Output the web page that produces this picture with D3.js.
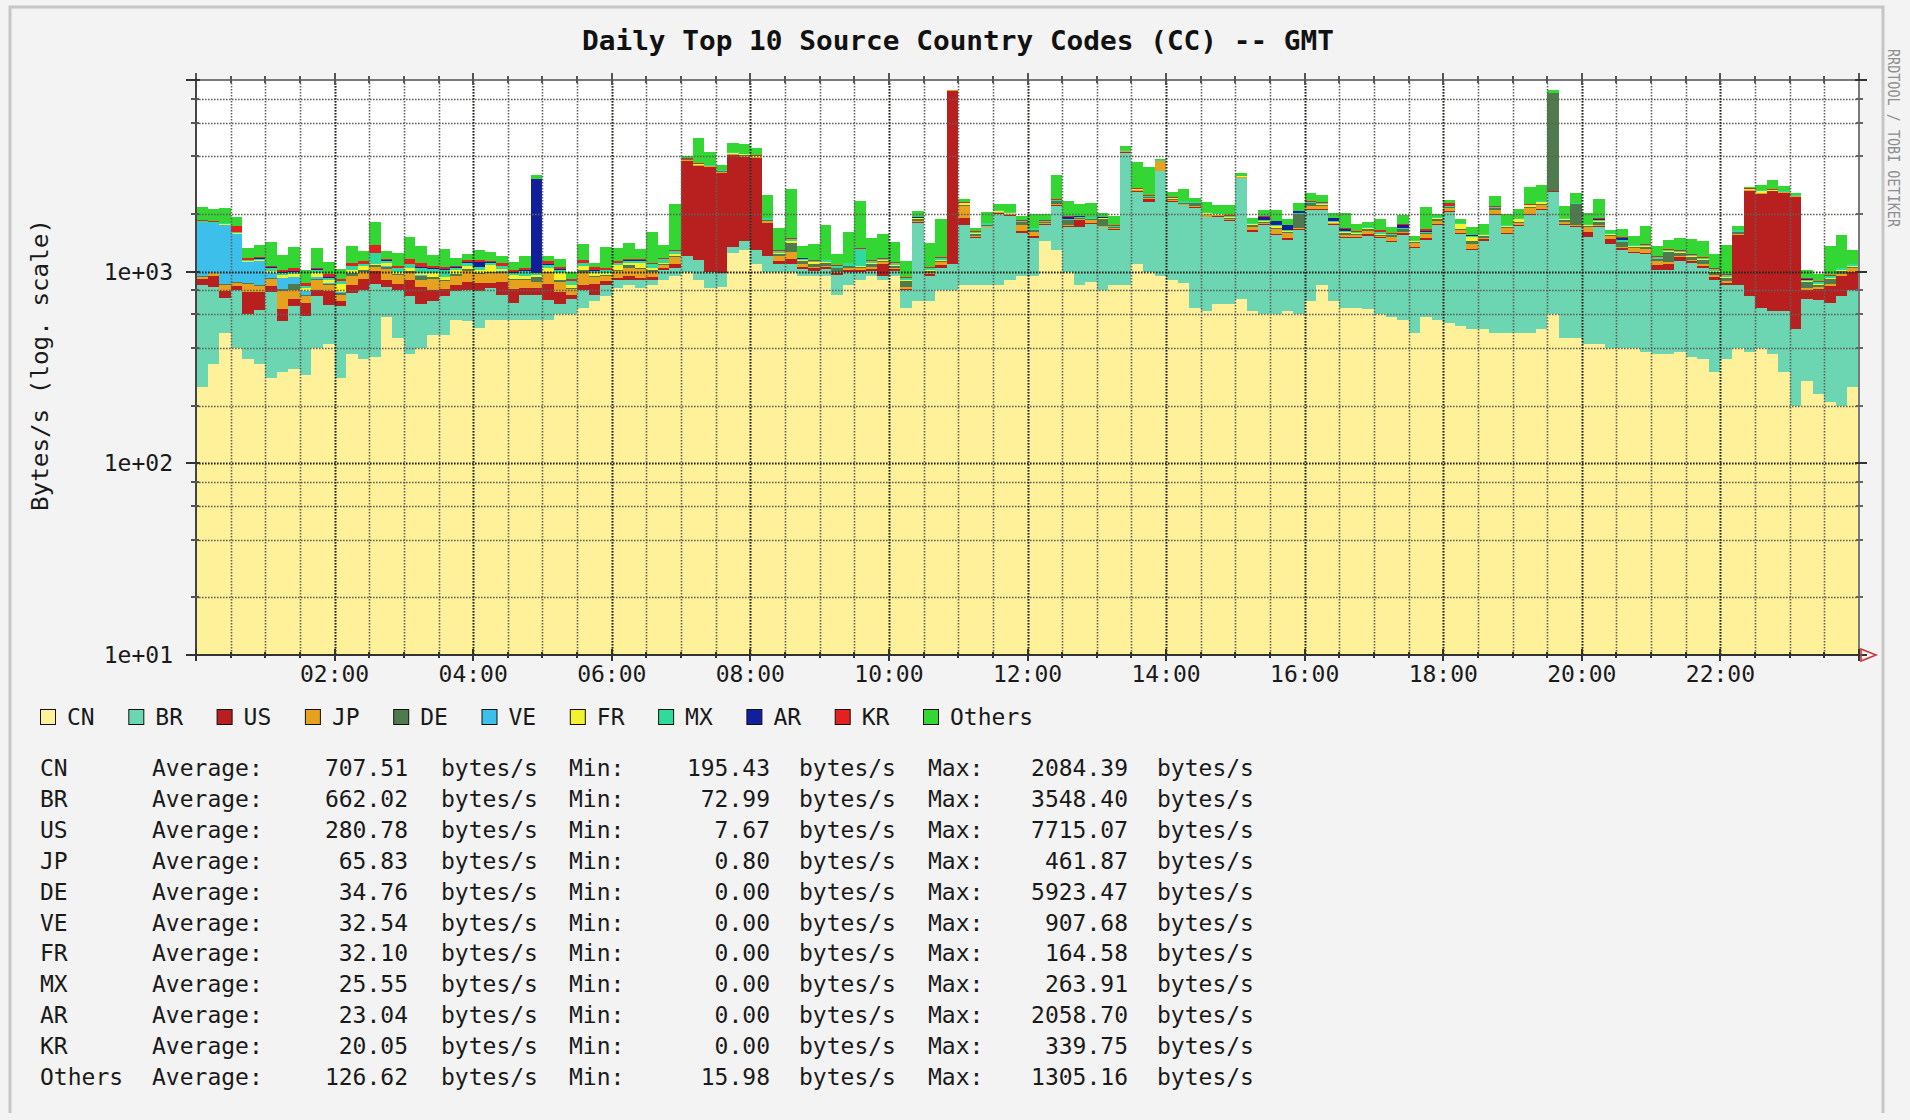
<!DOCTYPE html>
<html>
<head>
<meta charset="utf-8">
<script src="https://cdn.jsdelivr.net/npm/d3@7"></script>
<style>
html, body { margin: 0; padding: 0; background: #f3f3f3; }
svg { display: block; }
text { font-family: "DejaVu Sans Mono", monospace; fill: #1a1a1a; }
</style>
</head>
<body>
<svg id="chart" width="1910" height="1120"></svg>
<script>
// series, bottom to top (stack order of the rrd graph)
const keys = ["CN", "BR", "US", "JP", "DE", "VE", "FR", "MX", "AR", "KR", "Others"];
const colors = ["#fff09a", "#6cd5b2", "#b82020", "#e6a11e", "#4e7a4e", "#3cbfea",
	"#f2f22e", "#2edb9a", "#121f9c", "#e42020", "#33d633"];

// bytes/s, one value every 10 minutes, 00:00 -> 24:00 GMT
const CN = [
	250, 330, 480, 400, 350, 330, 280, 300, 310, 290, 400, 420,
	280, 370, 350, 360, 580, 450, 370, 400, 470, 470, 560, 550,
	510, 560, 560, 560, 560, 560, 560, 600, 600, 650, 700, 750,
	820, 850, 820, 850, 900, 950, 1000, 900, 820, 830, 1250, 1300,
	1100, 1000, 1000, 1000, 950, 950, 950, 760, 850, 900, 950, 900,
	950, 650, 700, 700, 800, 800, 850, 850, 850, 850, 900, 950,
	950, 1450, 1300, 1000, 850, 880, 800, 850, 850, 1100, 1000, 950,
	900, 870, 650, 620, 680, 680, 720, 620, 600, 600, 620, 600,
	700, 850, 700, 650, 650, 640, 600, 580, 560, 480, 580, 560,
	540, 520, 500, 500, 480, 480, 480, 480, 500, 600, 450, 450,
	420, 420, 400, 400, 400, 380, 370, 370, 380, 360, 350, 300,
	350, 400, 380, 400, 370, 300, 200, 270, 230, 210, 200, 250];
const BR = [
	600, 500, 250, 400, 250, 300, 500, 250, 350, 300, 350, 250,
	380, 400, 450, 500, 250, 350, 380, 280, 230, 280, 230, 250,
	280, 260, 200, 130, 200, 200, 150, 80, 120, 150, 60, 100,
	80, 60, 80, 60, 120, 100, 200, 250, 180, 150, 100, 150,
	200, 200, 100, 100, 80, 60, 80, 200, 150, 100, 60, 50,
	60, 150, 1100, 250, 250, 300, 900, 650, 850, 1150, 1050, 650,
	550, 300, 900, 700, 850, 900, 900, 800, 3300, 1500, 1300, 2400,
	1400, 1350, 1500, 1300, 1250, 1150, 2350, 1000, 1150, 950, 850, 1050,
	1400, 1250, 1050, 850, 850, 900, 900, 850, 1000, 850, 880, 1200,
	1500, 1050, 800, 950, 1500, 1100, 1250, 1500, 1600, 2000, 1300, 1250,
	1100, 1300, 1000, 900, 850, 850, 650, 650, 750, 750, 700, 600,
	500, 450, 370, 250, 250, 320, 300, 450, 480, 480, 550, 550];
const US = [
	70, 120, 60, 40, 180, 150, 60, 90, 60, 100, 50, 120,
	40, 80, 120, 150, 80, 60, 160, 150, 100, 60, 60, 80,
	80, 50, 120, 120, 60, 60, 150, 100, 40, 50, 100, 40,
	30, 40, 30, 30, 20, 40, 2600, 2400, 2500, 2300, 2700, 2500,
	2600, 600, 40, 60, 30, 30, 25, 20, 15, 20, 25, 150,
	20, 15, 25, 20, 30, 7700, 150, 20, 15, 25, 20, 30,
	40, 15, 20, 25, 150, 20, 15, 20, 80, 25, 100, 20,
	25, 15, 30, 20, 15, 25, 20, 30, 15, 20, 25, 20,
	30, 20, 15, 25, 20, 30, 20, 15, 25, 20, 40, 20,
	25, 15, 20, 30, 20, 15, 25, 20, 30, 20, 15, 25,
	100, 20, 80, 25, 15, 20, 60, 80, 60, 20, 25, 40,
	20, 700, 1900, 1900, 2000, 1950, 1950, 80, 100, 150, 200, 200];
const JP = [
	20, 30, 60, 30, 80, 60, 80, 150, 80, 60, 100, 60,
	60, 100, 80, 50, 120, 100, 80, 80, 120, 80, 100, 130,
	100, 120, 100, 90, 80, 60, 120, 100, 50, 130, 80, 60,
	80, 90, 100, 60, 40, 100, 40, 50, 40, 50, 60, 80,
	60, 40, 60, 100, 30, 20, 20, 20, 30, 20, 20, 20,
	20, 20, 20, 20, 40, 20, 300, 20, 20, 20, 30, 120,
	80, 30, 30, 30, 30, 60, 20, 20, 20, 30, 30, 400,
	30, 30, 30, 50, 20, 20, 20, 60, 20, 100, 100, 20,
	80, 80, 20, 20, 40, 60, 20, 80, 20, 60, 70, 60,
	80, 60, 80, 20, 100, 100, 50, 150, 100, 20, 60, 20,
	100, 20, 60, 20, 60, 60, 60, 20, 20, 20, 20, 20,
	20, 20, 20, 20, 20, 20, 20, 20, 20, 20, 20, 40];
const DE = [
	5, 10, 10, 10, 10, 10, 10, 20, 60, 10, 20, 10,
	10, 30, 20, 20, 30, 10, 20, 40, 20, 20, 20, 20,
	20, 10, 20, 20, 20, 60, 20, 20, 10, 40, 10, 10,
	10, 40, 10, 20, 10, 20, 10, 10, 10, 10, 10, 10,
	10, 10, 30, 150, 40, 40, 40, 40, 20, 20, 40, 20,
	20, 60, 40, 20, 20, 10, 20, 40, 10, 10, 10, 60,
	20, 20, 80, 100, 20, 20, 150, 20, 20, 20, 20, 20,
	50, 20, 60, 20, 20, 40, 20, 50, 40, 20, 20, 300,
	60, 20, 20, 50, 20, 40, 20, 20, 60, 20, 20, 50,
	20, 20, 40, 40, 50, 20, 20, 20, 20, 5900, 40, 500,
	20, 60, 20, 80, 20, 40, 20, 150, 40, 40, 60, 40,
	40, 40, 10, 10, 10, 10, 10, 60, 20, 60, 40, 20];
const VE = [
	850, 800, 900, 700, 250, 280, 60, 120, 80, 30, 20, 10,
	10, 5, 5, 0, 5, 0, 0, 5, 0, 0, 5, 0,
	0, 0, 5, 0, 0, 0, 0, 0, 0, 5, 0, 0,
	0, 0, 0, 0, 0, 0, 0, 0, 0, 0, 0, 0,
	0, 0, 0, 0, 0, 0, 0, 0, 0, 0, 0, 0,
	0, 0, 0, 0, 0, 0, 0, 0, 0, 0, 0, 0,
	0, 0, 0, 0, 0, 0, 0, 0, 0, 0, 0, 0,
	0, 0, 0, 0, 0, 0, 0, 0, 0, 0, 0, 0,
	0, 0, 0, 0, 0, 0, 0, 0, 0, 0, 0, 0,
	0, 0, 0, 0, 0, 0, 0, 0, 0, 0, 0, 0,
	0, 0, 0, 0, 0, 0, 0, 0, 0, 0, 0, 0,
	0, 0, 0, 0, 0, 0, 0, 0, 0, 0, 0, 0];
const FR = [
	10, 10, 10, 10, 10, 20, 20, 30, 30, 30, 40, 30,
	80, 40, 40, 20, 40, 30, 30, 30, 50, 30, 40, 40,
	30, 80, 30, 40, 30, 20, 40, 80, 30, 40, 40, 20,
	60, 30, 70, 30, 20, 30, 20, 20, 30, 30, 40, 50,
	30, 20, 20, 30, 20, 20, 10, 10, 10, 10, 10, 10,
	10, 10, 10, 10, 10, 10, 50, 10, 10, 10, 10, 10,
	10, 10, 10, 10, 10, 10, 10, 10, 10, 10, 10, 10,
	10, 10, 10, 10, 10, 10, 10, 10, 10, 40, 10, 10,
	10, 40, 10, 10, 10, 10, 10, 10, 10, 10, 10, 10,
	10, 100, 80, 10, 10, 10, 60, 50, 60, 10, 10, 10,
	10, 10, 10, 10, 10, 10, 10, 10, 10, 10, 10, 10,
	10, 10, 10, 60, 10, 10, 10, 10, 10, 10, 10, 10];
const MX = [
	30, 20, 20, 20, 20, 20, 40, 30, 30, 20, 40, 30,
	30, 40, 30, 150, 30, 40, 50, 60, 40, 80, 30, 40,
	40, 30, 30, 30, 60, 20, 40, 40, 40, 40, 20, 40,
	30, 30, 30, 40, 60, 40, 20, 30, 30, 20, 30, 30,
	30, 30, 30, 40, 20, 20, 20, 20, 30, 250, 30, 20,
	30, 20, 20, 30, 30, 20, 20, 20, 30, 30, 30, 20,
	30, 20, 30, 20, 30, 30, 20, 20, 20, 30, 30, 20,
	20, 40, 20, 30, 30, 30, 20, 20, 20, 20, 20, 30,
	30, 30, 30, 30, 30, 20, 40, 20, 20, 20, 20, 20,
	20, 20, 20, 20, 20, 20, 20, 20, 20, 20, 20, 20,
	20, 20, 20, 20, 20, 20, 20, 20, 20, 20, 20, 20,
	20, 20, 20, 20, 20, 20, 20, 20, 20, 20, 20, 20];
const AR = [
	5, 5, 5, 5, 5, 5, 5, 10, 10, 5, 10, 5,
	5, 10, 5, 5, 10, 5, 10, 10, 10, 10, 10, 10,
	60, 10, 10, 10, 10, 2050, 10, 10, 5, 10, 5, 5,
	5, 5, 5, 5, 0, 5, 0, 0, 0, 0, 0, 0,
	0, 0, 5, 5, 5, 0, 0, 5, 0, 0, 5, 0,
	0, 5, 5, 0, 0, 0, 0, 5, 0, 0, 0, 5,
	5, 0, 0, 50, 5, 0, 5, 0, 0, 0, 0, 0,
	0, 0, 5, 0, 0, 5, 0, 5, 80, 80, 100, 40,
	5, 0, 60, 40, 0, 5, 0, 0, 60, 0, 5, 0,
	0, 0, 5, 0, 5, 0, 0, 0, 0, 0, 5, 0,
	0, 40, 0, 50, 0, 0, 5, 0, 0, 5, 0, 0,
	5, 0, 0, 0, 0, 0, 0, 5, 0, 0, 0, 0];
const KR = [
	10, 10, 10, 120, 20, 20, 20, 20, 40, 30, 20, 40,
	20, 40, 30, 120, 20, 30, 60, 50, 30, 30, 20, 30,
	30, 20, 30, 20, 30, 20, 40, 30, 20, 30, 40, 20,
	20, 20, 20, 20, 10, 20, 10, 10, 10, 10, 10, 10,
	10, 10, 10, 10, 10, 10, 10, 10, 10, 10, 10, 10,
	10, 10, 10, 10, 10, 10, 10, 10, 10, 10, 10, 10,
	10, 10, 10, 10, 10, 10, 10, 10, 10, 10, 10, 10,
	10, 10, 10, 10, 10, 10, 10, 10, 10, 10, 10, 10,
	10, 10, 10, 10, 10, 10, 30, 10, 10, 10, 40, 10,
	100, 10, 10, 10, 10, 10, 10, 10, 10, 10, 10, 10,
	10, 10, 10, 10, 10, 10, 10, 10, 10, 10, 10, 10,
	10, 10, 10, 10, 10, 10, 10, 10, 10, 10, 10, 10];
const Others = [
	320, 300, 350, 200, 150, 180, 350, 200, 300, 150, 280, 150,
	120, 250, 150, 450, 120, 180, 350, 250, 150, 250, 100, 90,
	150, 120, 100, 100, 150, 150, 80, 100, 80, 250, 60, 300,
	200, 250, 150, 500, 200, 950, 100, 1300, 600, 200, 500, 500,
	400, 600, 400, 1200, 180, 250, 600, 150, 500, 1000, 350, 400,
	300, 200, 150, 350, 700, 50, 100, 60, 250, 150, 200, 100,
	300, 150, 800, 400, 300, 350, 100, 200, 200, 1000, 1000, 60,
	150, 350, 100, 250, 200, 250, 100, 100, 150, 250, 120, 200,
	250, 200, 100, 350, 150, 100, 250, 120, 200, 60, 500, 80,
	60, 80, 150, 200, 300, 250, 200, 500, 500, 300, 300, 300,
	250, 500, 40, 150, 150, 350, 150, 150, 200, 250, 250, 200,
	400, 80, 60, 150, 300, 150, 60, 100, 80, 400, 500, 200];

// summary printed under the graph
const avgVals = [707.51, 662.02, 280.78, 65.83, 34.76, 32.54, 32.10, 25.55, 23.04, 20.05, 126.62];
const minVals = [195.43, 72.99, 7.67, 0.80, 0.00, 0.00, 0.00, 0.00, 0.00, 0.00, 15.98];
const maxVals = [2084.39, 3548.40, 7715.07, 461.87, 5923.47, 907.68, 164.58, 263.91, 2058.70, 339.75, 1305.16];

const yTickVals = [10, 100, 1000];
const yTickLabels = ["1e+01", "1e+02", "1e+03"];

const title = "Daily Top 10 Source Country Codes (CC) -- GMT";
const yTitle = "Bytes/s (log. scale)";
const watermark = "RRDTOOL / TOBI OETIKER";

const series = [CN, BR, US, JP, DE, VE, FR, MX, AR, KR, Others];

const svg = d3.select("#chart");
const plotL = 196, plotR = 1859, plotT = 80, plotB = 655;
const t0 = Date.UTC(2000, 0, 1), step = 10 * 60 * 1000, day = 864e5;

const x = d3.scaleUtc().domain([t0, t0 + day]).range([plotL, plotR]);
const y = d3.scaleLog().domain([10, 10000]).range([plotB, plotT]).clamp(true);

const rows = CN.map((_, i) => {
	let r = { i: i };
	keys.forEach((k, j) => r[k] = series[j][i]);
	return r;
});
const stacked = d3.stack().keys(keys)(rows);

// background + frame
svg.append("rect").attr("width", 1910).attr("height", 1120).attr("fill", "#f3f3f3");
svg.append("path")
	.attr("d", "M10,1113 L10,7 L1883,7 L1883,1113")
	.attr("fill", "none")
	.attr("stroke", "#c6c6c6")
	.attr("stroke-width", 3);

svg.append("rect")
	.attr("x", plotL).attr("y", plotT)
	.attr("width", plotR - plotL).attr("height", plotB - plotT)
	.attr("fill", "#ffffff");

// stacked areas, one rect per 10 minute step
const gData = svg.append("g").attr("shape-rendering", "crispEdges");
const colX = i => Math.round(x(t0 + i * step));
stacked.forEach((layer, k) => {
	gData.append("g")
		.attr("fill", colors[k])
		.selectAll("rect")
		.data(layer.filter(d => d[1] > d[0]))
		.join("rect")
		.attr("x", d => colX(d.data.i))
		.attr("width", d => colX(d.data.i + 1) - colX(d.data.i))
		.attr("y", d => Math.round(y(d[1])))
		.attr("height", d => Math.round(y(Math.max(d[0], 10))) - Math.round(y(d[1])));
});

// grid
const minorX = d3.utcMinute.every(30).range(t0 + 1, t0 + day);
const majorX = d3.utcHour.every(2).range(t0 + 1, t0 + day);
const minorY = y.ticks().filter(v => {
	let lead = Math.round(v / Math.pow(10, Math.floor(Math.log10(v) + 1e-9)));
	return [2, 4, 6, 8].includes(lead);
});
const majorY = [100, 1000];

const gGrid = svg.append("g").attr("fill", "none");
gGrid.selectAll(".vminor").data(minorX).join("line")
	.attr("x1", d => Math.round(x(d)) + 0.5).attr("x2", d => Math.round(x(d)) + 0.5)
	.attr("y1", plotT).attr("y2", plotB)
	.attr("stroke", "#62625a").attr("stroke-width", 1.6).attr("stroke-dasharray", "1.6 1.4");
gGrid.selectAll(".hminor").data(minorY).join("line")
	.attr("x1", plotL).attr("x2", plotR)
	.attr("y1", d => Math.round(y(d)) + 0.5).attr("y2", d => Math.round(y(d)) + 0.5)
	.attr("stroke", "#62625a").attr("stroke-width", 1.6).attr("stroke-dasharray", "1.6 1.4");
gGrid.selectAll(".vmajor").data(majorX).join("line")
	.attr("x1", d => Math.round(x(d)) + 0.5).attr("x2", d => Math.round(x(d)) + 0.5)
	.attr("y1", plotT).attr("y2", plotB)
	.attr("stroke", "#26261e").attr("stroke-width", 1.8).attr("stroke-dasharray", "1.6 1.4");
gGrid.selectAll(".hmajor").data(majorY).join("line")
	.attr("x1", plotL).attr("x2", plotR)
	.attr("y1", d => Math.round(y(d)) + 0.5).attr("y2", d => Math.round(y(d)) + 0.5)
	.attr("stroke", "#26261e").attr("stroke-width", 1.8).attr("stroke-dasharray", "1.6 1.4");

// axes and tick marks
const gAxis = svg.append("g").attr("shape-rendering", "crispEdges");
const allX = [t0].concat(minorX, [t0 + day]);
const isMajorX = d => ((d - t0) / 36e5) % 2 === 0;

gAxis.append("line").attr("x1", plotL).attr("x2", plotR + 1).attr("y1", plotT).attr("y2", plotT)
	.attr("stroke", "#7a7a7a").attr("stroke-width", 2);
gAxis.selectAll(".ttick").data(allX).join("line")
	.attr("x1", d => Math.round(x(d))).attr("x2", d => Math.round(x(d)))
	.attr("y1", d => isMajorX(d) ? plotT - 7 : plotT - 4).attr("y2", d => isMajorX(d) ? plotT + 5 : plotT + 3)
	.attr("stroke", "#555").attr("stroke-width", 1.5);

gAxis.append("line").attr("x1", plotR).attr("x2", plotR).attr("y1", plotT).attr("y2", plotB)
	.attr("stroke", "#7a7a7a").attr("stroke-width", 2);
gAxis.append("line").attr("x1", plotL).attr("x2", plotL).attr("y1", plotT - 2).attr("y2", plotB + 5)
	.attr("stroke", "#444").attr("stroke-width", 2);
gAxis.append("line").attr("x1", plotL - 5).attr("x2", plotR + 2).attr("y1", plotB).attr("y2", plotB)
	.attr("stroke", "#333").attr("stroke-width", 2);

gAxis.selectAll(".btick").data(allX).join("line")
	.attr("x1", d => Math.round(x(d))).attr("x2", d => Math.round(x(d)))
	.attr("y1", d => isMajorX(d) ? plotB - 6 : plotB - 3).attr("y2", d => isMajorX(d) ? plotB + 6 : plotB + 3)
	.attr("stroke", "#333").attr("stroke-width", 1.5);

const allY = [10, 100, 1000, 10000];
gAxis.selectAll(".lmaj").data(allY).join("line")
	.attr("x1", plotL - 10).attr("x2", plotL + 4)
	.attr("y1", d => Math.round(y(d))).attr("y2", d => Math.round(y(d)))
	.attr("stroke", "#333").attr("stroke-width", 1.5);
gAxis.selectAll(".lmin").data(minorY).join("line")
	.attr("x1", plotL - 5).attr("x2", plotL + 3)
	.attr("y1", d => Math.round(y(d))).attr("y2", d => Math.round(y(d)))
	.attr("stroke", "#555").attr("stroke-width", 1.5);
gAxis.selectAll(".rmaj").data(allY).join("line")
	.attr("x1", plotR - 4).attr("x2", plotR + 8)
	.attr("y1", d => Math.round(y(d))).attr("y2", d => Math.round(y(d)))
	.attr("stroke", "#333").attr("stroke-width", 1.5);
gAxis.selectAll(".rmin").data(minorY).join("line")
	.attr("x1", plotR - 3).attr("x2", plotR + 4)
	.attr("y1", d => Math.round(y(d))).attr("y2", d => Math.round(y(d)))
	.attr("stroke", "#666").attr("stroke-width", 1.5);

// x axis arrow
svg.append("path")
	.attr("d", `M${plotR + 2},${plotB - 6} L${plotR + 17},${plotB} L${plotR + 2},${plotB + 6} Z`)
	.attr("fill", "none").attr("stroke", "#c83a3a").attr("stroke-width", 1.6);

// labels
svg.append("text")
	.attr("x", 958).attr("y", 50)
	.attr("text-anchor", "middle")
	.attr("font-size", 27).attr("font-weight", "bold")
	.attr("textLength", 752).attr("lengthAdjust", "spacingAndGlyphs")
	.style("fill", "#111")
	.text(title);

const fmt = d3.utcFormat("%H:%M");
svg.append("g").selectAll("text").data(majorX).join("text")
	.attr("x", d => x(d)).attr("y", 682)
	.attr("text-anchor", "middle").attr("font-size", 23)
	.text(d => fmt(d));

svg.append("g").selectAll("text").data(yTickVals).join("text")
	.attr("x", 173).attr("y", d => y(d) + 8)
	.attr("text-anchor", "end").attr("font-size", 23)
	.text((d, i) => yTickLabels[i]);

svg.append("text")
	.attr("transform", "translate(48,365) rotate(-90)")
	.attr("text-anchor", "middle").attr("font-size", 23)
	.attr("textLength", 292).attr("lengthAdjust", "spacingAndGlyphs")
	.text(yTitle);

svg.append("text")
	.attr("transform", "translate(1888,49) rotate(90)")
	.attr("font-size", 15)
	.attr("textLength", 178).attr("lengthAdjust", "spacingAndGlyphs")
	.style("fill", "#8f8f8f")
	.text(watermark);

// legend
const legend = svg.append("g").selectAll("g").data(keys).join("g")
	.attr("transform", (d, i) => `translate(${40 + i * 88.3},717)`);
legend.append("rect")
	.attr("x", 0.5).attr("y", -7.5).attr("width", 15).attr("height", 15)
	.attr("fill", (d, i) => colors[i]).attr("stroke", "#111").attr("stroke-width", 1);
legend.append("text")
	.attr("x", 27).attr("y", 8).attr("font-size", 23)
	.text(d => d);

// summary table
const rowsG = svg.append("g").selectAll("g").data(keys).join("g")
	.attr("transform", (d, i) => `translate(0,${776 + i * 30.9})`)
	.attr("font-size", 23);
rowsG.append("text").attr("x", 40).text(d => d);
rowsG.append("text").attr("x", 152).text("Average:");
rowsG.append("text").attr("x", 408).attr("text-anchor", "end").text((d, i) => avgVals[i].toFixed(2));
rowsG.append("text").attr("x", 441).text("bytes/s");
rowsG.append("text").attr("x", 569).text("Min:");
rowsG.append("text").attr("x", 770).attr("text-anchor", "end").text((d, i) => minVals[i].toFixed(2));
rowsG.append("text").attr("x", 799).text("bytes/s");
rowsG.append("text").attr("x", 928).text("Max:");
rowsG.append("text").attr("x", 1128).attr("text-anchor", "end").text((d, i) => maxVals[i].toFixed(2));
rowsG.append("text").attr("x", 1157).text("bytes/s");
</script>
</body>
</html>
